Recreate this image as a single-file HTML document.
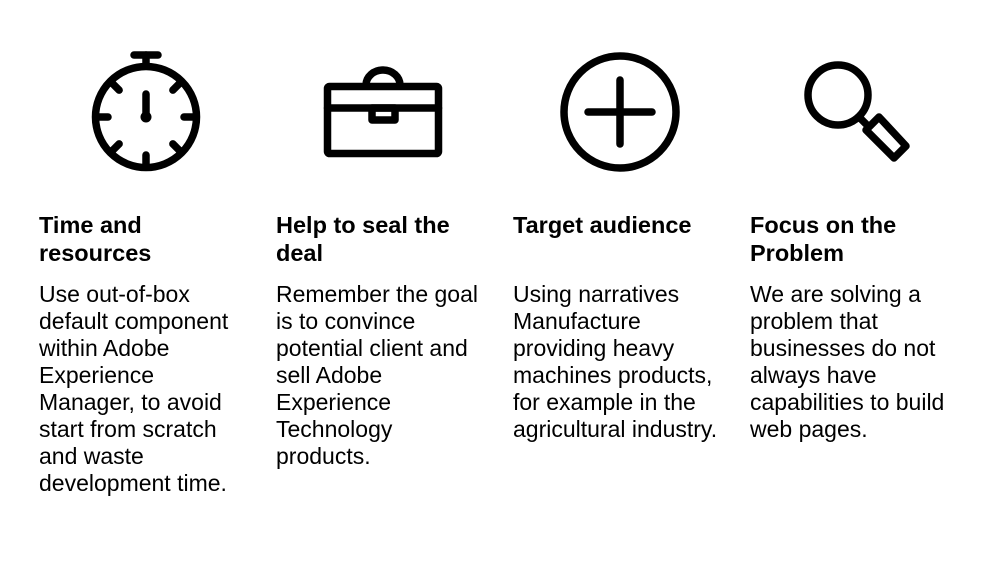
<!DOCTYPE html>
<html><head><meta charset="utf-8"><style>
body{margin:0;width:996px;height:578px;background:#fff;position:relative;overflow:hidden;font-family:"Liberation Sans",sans-serif;color:#000}
.col{position:absolute;top:211px;width:240px;white-space:nowrap}
h2{margin:0;font-size:23.5px;font-weight:bold;line-height:28px;height:58px}
p{margin:12px 0 0;font-size:23px;line-height:27px}
svg{position:absolute;left:0;top:0}
</style></head><body>
<svg width="996" height="200" fill="none" stroke="#000" stroke-width="7.5" stroke-linecap="round">
<g>
<line x1="134" y1="55" x2="158" y2="55"/><line x1="146" y1="55" x2="146" y2="66"/>
<circle cx="146" cy="117" r="50.5"/>
<line x1="146" y1="94" x2="146" y2="117"/><circle cx="146" cy="117" r="5.5" fill="#000" stroke="none"/>
<g id="ticks"></g>
</g>
<g stroke-linejoin="round">
<rect x="327.5" y="86.5" width="111" height="67" rx="2"/>
<line x1="327.5" y1="108" x2="438.5" y2="108"/>
<rect x="372" y="108" width="23" height="12"/>
<path d="M366 85 A17 15 0 0 1 400 85"/>
</g>
<g>
<circle cx="620" cy="112" r="56"/>
<line x1="620" y1="80" x2="620" y2="144"/><line x1="588" y1="112" x2="652" y2="112"/>
</g>
<g stroke-linejoin="round">
<circle cx="838" cy="95" r="30"/>
<line x1="859" y1="117" x2="866" y2="124"/>
<path d="M866 130 L879 117 L906 146 L894 158 Z"/>
</g>
</svg>
<div class="col" style="left:39px"><h2>Time and<br>resources</h2><p>Use out-of-box<br>default component<br>within Adobe<br>Experience<br>Manager, to avoid<br>start from scratch<br>and waste<br>development time.</p></div>
<div class="col" style="left:276px"><h2>Help to seal the<br>deal</h2><p>Remember the goal<br>is to convince<br>potential client and<br>sell Adobe<br>Experience<br>Technology<br>products.</p></div>
<div class="col" style="left:513px"><h2>Target audience</h2><p>Using narratives<br>Manufacture<br>providing heavy<br>machines products,<br>for example in the<br>agricultural industry.</p></div>
<div class="col" style="left:750px"><h2>Focus on the<br>Problem</h2><p>We are solving a<br>problem that<br>businesses do not<br>always have<br>capabilities to build<br>web pages.</p></div>
<script>
var g=document.getElementById('ticks');
for(var i=1;i<8;i++){var a=i*Math.PI/4;var s=Math.sin(a),c=-Math.cos(a);
var l=document.createElementNS('http://www.w3.org/2000/svg','line');
l.setAttribute('x1',146+s*38);l.setAttribute('y1',117+c*38);l.setAttribute('x2',146+s*50);l.setAttribute('y2',117+c*50);
g.appendChild(l);}
</script>
</body></html>
